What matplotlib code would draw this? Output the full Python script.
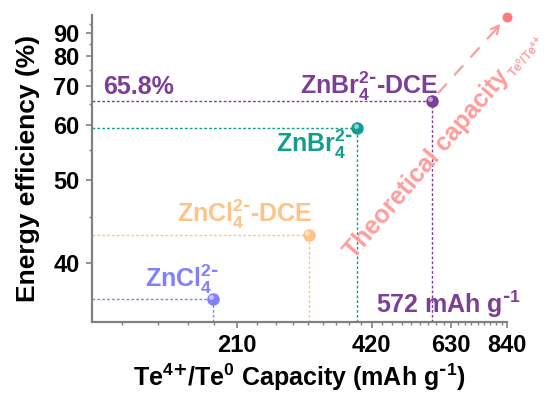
import numpy as np
import matplotlib
matplotlib.use("Agg")
import matplotlib.pyplot as plt
import matplotlib.ticker as mticker
import matplotlib.transforms as mtransforms

# electrolyte systems
names = [r"ZnCl$_4^{2\text{-}}$", r"ZnCl$_4^{2\text{-}}$-DCE",
         r"ZnBr$_4^{2\text{-}}$", r"ZnBr$_4^{2\text{-}}$-DCE"]
capacity = [186, 304, 390, 572]          # mAh g-1
efficiency = [36.8, 42.9, 59.4, 65.8]    # %
colors = ["#8080ff", "#ffc388", "#129e8f", "#7b3f97"]

# theoretical Te4+/Te0 capacity
theo_capacity = 840
theo_efficiency = 99

x_major = [210, 420, 630, 840]
y_major = [40, 50, 60, 70, 80, 90]
y_minor = [45, 55, 65, 75, 85, 95]

plt.rcParams["font.family"] = ["Liberation Sans", "DejaVu Sans"]
plt.rcParams["font.weight"] = "bold"
plt.rcParams["mathtext.default"] = "regular"


def recip(v):
    v = np.asarray(v, dtype=float)
    with np.errstate(divide="ignore", invalid="ignore"):
        return -1.0 / v


fig = plt.figure(figsize=(5.51, 3.94), dpi=100)
ax = fig.add_axes([92 / 551, 72 / 394, 415 / 551, 307 / 394])

ax.set_xscale("log")
ax.set_yscale("function", functions=(recip, recip))
ax.set_xlim(100, 840)
ax.set_ylim(35, 100)

ax.xaxis.set_major_locator(mticker.FixedLocator(x_major))
ax.xaxis.set_major_formatter(mticker.FixedFormatter([str(v) for v in x_major]))
step = 70 / 3
ax.xaxis.set_minor_locator(mticker.FixedLocator(
    [step * k for k in range(5, 37) if k % 9 != 0]))
ax.xaxis.set_minor_formatter(mticker.NullFormatter())
ax.yaxis.set_major_locator(mticker.FixedLocator(y_major))
ax.yaxis.set_major_formatter(mticker.FixedFormatter([str(v) for v in y_major]))
ax.yaxis.set_minor_locator(mticker.FixedLocator(y_minor))
ax.yaxis.set_minor_formatter(mticker.NullFormatter())

grey = "#808080"
for side in ["top", "right"]:
    ax.spines[side].set_visible(False)
for side in ["left", "bottom"]:
    ax.spines[side].set_color(grey)
    ax.spines[side].set_linewidth(1.6)
ax.tick_params(which="major", direction="out", length=4, width=1.2, color=grey,
               labelsize=17, pad=5)
ax.tick_params(which="minor", direction="out", length=2.5, width=1.0, color=grey)

hl = mtransforms.offset_copy(ax.transData, fig=fig, x=-1.8, y=1.8, units="dots")
for x, y, c in zip(capacity, efficiency, colors):
    ax.plot([100, x], [y, y], ls=(0, (2, 1.5)), lw=1, color=c, zorder=2)
    ax.plot([x, x], [35, y], ls=(0, (2, 1.5)), lw=1, color=c, zorder=2)
    ax.plot(x, y, "o", ms=9, color=c, mec="none", zorder=4, clip_on=False)
    ax.plot(x, y, "o", ms=3.5, color="white", alpha=0.55, mec="none",
            transform=hl, zorder=5, clip_on=False)

# labels: right edge / baseline
label_pos = [(192, 37.8), (310, 44.4), (381, 54.7), (591, 67.8)]
for name, (lx, ly), c in zip(names, label_pos, colors):
    ax.text(lx, ly, name, color=c, fontsize=18, ha="right", va="baseline")

ax.text(106, 69.8, "65.8%", color=colors[3], fontsize=18, ha="left", va="center")
ax.text(429, 35.7, r"572 mAh g$^{\text{-}1}$", color=colors[3], fontsize=18,
        ha="left", va="baseline")

pink = "#ff9c9c"
ax.plot(theo_capacity, theo_efficiency, "o", ms=7.2, color="#ff7a7a", mec="none",
        zorder=4, clip_on=False)
ax.plot([589, 790], [67.8, 91.5], ls=(0, (6, 5)), lw=1.6, color=pink, zorder=3)
ax.annotate("", xy=(812, 95), xytext=(790, 91.5),
            arrowprops=dict(arrowstyle="->", color=pink, lw=1.6,
                            mutation_scale=14, shrinkA=0, shrinkB=0))

# rotated label with a small subscript placed at the end of its baseline
angle = 49.5
anchor = (384, 40.3)
main_txt = "Theoretical capacity"
tmain = ax.text(*anchor, main_txt, color=pink, fontsize=18, rotation=angle,
                rotation_mode="anchor", ha="left", va="baseline", clip_on=False)
fig.canvas.draw()
renderer = fig.canvas.get_renderer()
w, _, _ = renderer.get_text_width_height_descent(
    main_txt, tmain.get_fontproperties(), ismath=False)
th = np.deg2rad(angle)
start = ax.transData.transform(anchor)
end = start + (w + 1) * np.array([np.cos(th), np.sin(th)]) \
    + 4 * np.array([np.sin(th), -np.cos(th)])
fig.text(end[0], end[1], r"Te$^{0}$/Te$^{4\text{+}}$",
         transform=mtransforms.IdentityTransform(),
         color=pink, fontsize=8.5, rotation=angle, rotation_mode="anchor",
         ha="left", va="baseline")

ax.set_xlabel(r"Te$^{4\text{+}}$/Te$^{0}$ Capacity (mAh g$^{\text{-}1}$)",
              fontsize=18, fontweight="bold")
ax.set_ylabel("Energy efficiency (%)", fontsize=19, fontweight="bold")
ax.xaxis.set_label_coords(0.5, -0.13)
ax.yaxis.set_label_coords(-0.125, 0.5)

fig.savefig("out.png", dpi=100)
